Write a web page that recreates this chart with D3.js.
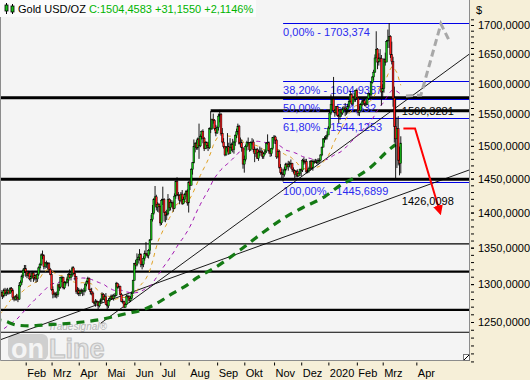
<!DOCTYPE html>
<html><head><meta charset="utf-8">
<script src="https://cdn.jsdelivr.net/npm/d3@7"></script>
<style>
body{margin:0;background:#f6efd8;}
svg{display:block;font-family:"Liberation Sans",Arial,sans-serif;}
</style>
</head><body>
<svg id="c" width="530" height="380"></svg>
<script>
// ---------- DATA ----------
const preCloses = [1230,1226,1225,1227,1228,1222,1232,1231,1233,1235,1227,1223,1215,
 1233,1232,1232,1231,1225,1222,1209,1201,1202,1211,1214,1222,1223,1221,1226,1222,1222,1214,1221,1223,1222,
 1231,1238,1237,1238,1248,1244,1246,1243,1241,1238,1246,1249,1245,1258,1256,1269,1268,1276,1281,1282];

const closes = [
 1284,1294,1285,1289,1284,1292,1287,1289,1291,1288,1294,1292,1282,1280,1283,1282,1280,1298,1302,1311,1319,1321,
 1317,1312,1315,1307,1310,1315,1308,1312,1307,1313,1322,1327,1340,1339,1324,1329,1328,1328,1320,1313,
 1293,1286,1287,1286,1286,1299,1296,1309,1309,1295,1302,1302,1306,1313,1309,1313,1322,1315,1310,1290,1292,
 1287,1291,1290,1291,1291,1300,1303,1308,1293,1290,1288,1276,1274,1276,1277,1271,1276,1279,1286,1280,1283,
 1273,1271,1278,1281,1284,1281,1284,1285,1301,1296,1297,1286,1277,1277,1269,1273,1284,1283,1278,1281,1288,1305,
 1328,1326,1334,1336,1341,1327,1327,1335,1342,1341,1339,1346,1361,1390,1399,1419,1423,1408,1412,1409,
 1385,1418,1419,1400,1396,1398,1419,1407,1415,1414,1406,1424,1446,1426,1425,1418,1427,1413,1419,1427,1431,1414,
 1445,1440,1464,1474,1499,1504,1497,1511,1500,1515,1523,1512,1496,1505,1501,1497,1527,1527,1542,1540,1527,1520,
 1529,1547,1550,1519,1506,1499,1486,1497,1499,1488,1498,1502,1494,1506,1516,1522,1531,1504,1505,1497,1472,
 1479,1499,1505,1505,1494,1505,1506,1494,1488,1494,1481,1490,1492,1490,1484,1488,1492,1504,1505,1492,1488,1496,1513,
 1514,1509,1483,1491,1467,1459,1457,1456,1463,1472,1468,1472,1471,1473,1464,1462,1456,1461,1454,1458,1464,
 1463,1478,1475,1476,1460,1462,1465,1476,1466,1476,1476,1475,1475,1478,1478,1486,1498,1511,1511,1514,1517,
 1528,1552,1566,1574,1556,1552,1562,1548,1546,1557,1552,1557,1560,1558,1558,1563,1571,1582,1567,1577,1575,1589,
 1576,1553,1556,1566,1570,1572,1567,1566,1576,1584,1581,1602,1611,1619,1643,1658,1636,1643,1642,1586,
 1592,1640,1636,1671,1673,1680,1649,1637,1576,1530,1511,1527,1478,1473.3033,1504.4583];

const highs = [
 1290,1298,1298,1292,1290,1294,1295,1294,1295,1293,1296,1296,1294,1284,1285,1287,1285,1302,1305,1313,1321,1326,
 1326,1318,1318,1316,1312,1318,1316,1313,1314,1316,1324,1329,1342,1346,1341,1330,1332,1330,1330,1322,
 1315,1297,1290,1289,1290,1301,1300,1310,1311,1310,1304,1304,1310,1315,1320,1316,1324,1324,1316,1311,1296,
 1295,1293,1294,1293,1295,1301,1305,1310,1309,1294,1295,1290,1278,1280,1279,1277,1277,1281,1289,1288,1286,
 1288,1276,1281,1283,1286,1286,1287,1288,1303,1302,1300,1298,1288,1280,1278,1275,1286,1286,1285,1284,1290,1306,
 1329,1333,1342,1339,1348,1342,1331,1338,1346,1358,1342,1348,1362,1397,1411,1421,1439,1426,1415,1414,
 1410,1420,1438,1421,1402,1404,1427,1421,1419,1418,1416,1428,1447,1452,1430,1426,1430,1433,1423,1429,1433,1434,
 1446,1449,1466,1475,1510,1506,1509,1513,1535,1518,1524,1526,1514,1507,1507,1506,1529,1555,1543,1551,1542,1533,
 1531,1551,1557,1552,1528,1512,1500,1499,1520,1505,1512,1505,1511,1508,1518,1527,1535,1533,1513,1510,1497,
 1485,1502,1508,1513,1506,1507,1512,1510,1499,1496,1497,1494,1499,1497,1493,1490,1495,1505,1518,1507,1495,1497,1514,
 1517,1516,1511,1494,1494,1472,1465,1465,1468,1474,1474,1477,1476,1479,1474,1467,1463,1463,1464,1459,1465,
 1465,1480,1482,1480,1480,1465,1468,1478,1478,1479,1479,1480,1479,1481,1481,1487,1499,1512,1515,1517,1523,
 1531,1555,1582,1576,1611,1558,1563,1563,1551,1559,1557,1562,1563,1568,1560,1567,1575,1588,1584,1578,1584,1590,
 1592,1577,1563,1568,1574,1575,1575,1570,1578,1585,1584,1604,1612,1623,1649,1689,1660,1651,1658,1648,
 1599,1643,1652,1674,1692,1703.4,1682,1671,1645,1595,1575,1545,1547,1499,1515];

const lows = [
 1279,1283,1280,1283,1280,1282,1284,1284,1286,1286,1287,1289,1279,1277,1278,1278,1276,1279,1296,1299,1308,1315,
 1310,1308,1310,1305,1303,1308,1303,1305,1302,1303,1311,1318,1325,1334,1320,1321,1322,1320,1316,1312,
 1291,1281,1282,1282,1281,1283,1291,1294,1303,1293,1293,1298,1301,1297,1308,1305,1310,1313,1305,1287,1286,
 1284,1284,1287,1284,1285,1289,1297,1301,1292,1286,1285,1275,1272,1270,1274,1266,1269,1274,1275,1279,1277,
 1272,1266,1268,1276,1279,1280,1278,1282,1284,1294,1294,1285,1276,1274,1269,1269,1272,1281,1275,1276,1280,1287,
 1305,1320,1324,1328,1332,1323,1320,1323,1332,1338,1336,1335,1341,1360,1387,1397,1410,1403,1401,1400,
 1381,1382,1411,1387,1386,1389,1396,1402,1403,1408,1401,1405,1420,1424,1419,1412,1415,1411,1412,1415,1423,1410,
 1400,1433,1440,1456,1473,1490,1494,1494,1480,1498,1510,1504,1492,1495,1495,1492,1495,1520,1525,1535,1524,1515,
 1519,1524,1537,1516,1504,1496,1484,1485,1491,1486,1490,1492,1490,1488,1500,1512,1518,1502,1498,1491,1465,
 1459,1476,1493,1501,1491,1492,1501,1490,1475,1483,1480,1477,1484,1485,1480,1480,1486,1489,1502,1488,1483,1484,1494,
 1505,1503,1480,1481,1465,1456,1450,1445.7,1453,1461,1465,1462,1467,1465,1460,1458,1451,1452,1452,1453,1454,
 1454,1460,1471,1472,1458,1458,1459,1462,1464,1462,1472,1474,1472,1471,1474,1476,1484,1498,1505,1509,1510,
 1517,1526,1549,1558,1553,1546,1549,1546,1536,1541,1546,1549,1555,1547,1549,1551,1560,1569,1565,1564,1570,1570,
 1573,1548,1547,1556,1562,1565,1563,1562,1565,1573,1578,1580,1600,1605,1618,1644,1624,1630,1636,1564,
 1575,1585,1630,1636,1660,1660,1643,1632,1562,1505,1451,1466,1470,1455,1458];

const monthLabels = ["Feb","Mrz","Apr","Mai","Jun","Jul","Aug","Sep","Okt","Nov","Dez","2020","Feb","Mrz","Apr"];
const monthTickIdx = [22,42,63,84,106,126,148,170,191,214,235,256,278,298,324];
const priceTicks = [1250,1300,1350,1400,1450,1500,1550,1600,1650,1700];

const supportLevels = [1576.8, 1449, 1355.4, 1316.9, 1265.7, 1236.8];
const resistStartIdx = 165, resistPrice = 1555.5;

const fibHigh = 1703.374, fibLow = 1445.68994, fibStartIdx = 221;
const fibPcts = [0, 38.2, 50, 61.8, 100];

const trendA = [[0, 1225.8], [312, 1426.0098]];
const trendB = [[80, 1248.4], [312, 1566.3281]];

const ma200Idx = [-3, 4, 15, 25, 35, 66, 79, 100, 113, 124, 136, 147, 154, 168, 188, 203, 226, 236, 253, 266, 278, 288, 304, 308];
const ma200Val = [1253, 1252, 1246, 1245, 1246, 1250, 1253, 1261, 1266, 1275, 1288, 1299, 1308, 1322, 1347, 1368, 1397, 1407, 1423, 1441, 1453, 1466, 1496, 1502];

const forecastIdx = [316, 327.5, 343, 350];
const forecastVal = [1579.5, 1581, 1702, 1670];
const arrowIdx = [314, 323, 342.5];
const arrowVal = [1527.3, 1527.3, 1399];

// ---------- SETUP ----------
const svg = d3.select("#c");
const W = 470, H = 361;
const x = d3.scaleLinear().domain([22, 298]).range([25.7, 382.7]);
const y = d3.scaleLog().domain([1250, 1700]).range([322, 25]);
const fmt4 = v => d3.format(".4f")(v).replace(".", ",");
const fmtTrim = v => d3.format(".4f")(v).replace(/0+$/, "").replace(/\.$/, "").replace(".", ",");

svg.append("rect").attr("width", 530).attr("height", 380).attr("fill", "#f6efd8");
svg.append("rect").attr("x", 0).attr("y", 0).attr("width", W).attr("height", H)
  .attr("fill", "#f4f4f4");
svg.append("path").attr("d", `M0.5,0 V${H - 0.5} H${W - 0.5} V0`).attr("fill", "none").attr("stroke", "#8c8c8c");

svg.append("defs").append("clipPath").attr("id", "pc")
  .append("rect").attr("x", 1).attr("y", 0).attr("width", W - 2).attr("height", H - 1);
svg.select("defs").append("marker").attr("id", "ah").attr("viewBox", "0 0 10 10")
  .attr("refX", 8).attr("refY", 5).attr("markerWidth", 5).attr("markerHeight", 5)
  .attr("orient", "auto").attr("markerUnits", "strokeWidth")
  .append("path").attr("d", "M0,0 L10,5 L0,10 Z").attr("fill", "#ff0000");

const g = svg.append("g").attr("clip-path", "url(#pc)");

// watermark
const wm = g.append("g");
wm.append("text").attr("x", 48).attr("y", 330).attr("font-size", 10).attr("font-style", "italic")
  .attr("fill", "#b4b4b4").text("Tradesignal®");
wm.append("rect").attr("x", 8).attr("y", 334).attr("width", 40).attr("height", 26).attr("rx", 6)
  .attr("fill", "#cfcfcf");
wm.append("text").attr("x", 11).attr("y", 358).attr("font-size", 27).attr("font-weight", "bold")
  .attr("fill", "#f4f4f4").text("on");
wm.append("text").attr("x", 49).attr("y", 358).attr("font-size", 27).attr("font-weight", "bold")
  .attr("fill", "#e6e6e6").attr("stroke", "#c4c4c4").attr("stroke-width", 1.2).text("Line");

// horizontal levels
const supW = [3, 3, 1.3, 2.2, 2.2, 1];
supportLevels.forEach((p, k) => {
  g.append("line").attr("x1", 0).attr("x2", W).attr("y1", y(p)).attr("y2", y(p))
    .attr("stroke", "#000").attr("stroke-width", supW[k]);
});
g.append("line").attr("x1", x(resistStartIdx)).attr("x2", W).attr("y1", y(resistPrice)).attr("y2", y(resistPrice))
  .attr("stroke", "#000").attr("stroke-width", 3);

// fib
fibPcts.forEach(pc => {
  const lv = fibHigh - pc / 100 * (fibHigh - fibLow);
  const yy = Math.round(y(lv)) + 0.5;
  g.append("line").attr("x1", x(fibStartIdx)).attr("x2", W).attr("y1", yy).attr("y2", yy)
    .attr("stroke", "#0000e6").attr("stroke-width", 1);
  g.append("text").attr("x", x(fibStartIdx)).attr("y", yy + 12.5).attr("font-size", 11)
    .attr("fill", "#2a2af0")
    .text(d3.format(".2f")(pc).replace(".", ",") + "% - " + fmtTrim(lv));
});

// trend lines
function extLine(pts) {
  const x1 = x(pts[0][0]), y1 = y(pts[0][1]), x2 = x(pts[1][0]), y2 = y(pts[1][1]);
  const s = (y2 - y1) / (x2 - x1);
  return [x1, y1, W, y2 + s * (W - x2)];
}
[trendA, trendB].forEach(t => {
  const L = extLine(t);
  g.append("line").attr("x1", L[0]).attr("y1", L[1]).attr("x2", L[2]).attr("y2", L[3])
    .attr("stroke", "#000").attr("stroke-width", 0.9);
});

// moving averages (computed from closes)
const all = preCloses.concat(closes);
const off = preCloses.length;
function sma(n) {
  const out = [];
  for (let k = n - 1; k < all.length; k++) {
    out.push([k - off, d3.mean(all.slice(k - n + 1, k + 1))]);
  }
  return out;
}
const lineGen = d3.line().x(d => x(d[0])).y(d => y(d[1]));
g.append("path").attr("d", lineGen(sma(50))).attr("fill", "none").attr("stroke", "#a010b0")
  .attr("stroke-width", 1).attr("stroke-dasharray", "4,4");
g.append("path").attr("d", lineGen(sma(20))).attr("fill", "none").attr("stroke", "#e0a020")
  .attr("stroke-width", 1).attr("stroke-dasharray", "4,4");

// 200 MA typed
g.append("path").attr("d", d3.line().curve(d3.curveMonotoneX).x((d, i) => x(ma200Idx[i])).y(d => y(d))(ma200Val))
  .attr("fill", "none").attr("stroke", "#147a14").attr("stroke-width", 3.2).attr("stroke-dasharray", "8,6");

// candles
const cd = closes.map((c, i) => ({ i, o: i === 0 ? preCloses[preCloses.length - 1] : closes[i - 1], c, h: highs[i], l: lows[i] }));
const cg = g.append("g");
cg.selectAll("line.w").data(cd).join("line")
  .attr("x1", d => x(d.i)).attr("x2", d => x(d.i))
  .attr("y1", d => y(Math.max(d.h, d.o, d.c))).attr("y2", d => y(Math.min(d.l, d.o, d.c)))
  .attr("stroke", "#000").attr("stroke-width", 0.9);
cg.selectAll("rect").data(cd).join("rect")
  .attr("x", d => x(d.i) - 0.9).attr("width", 1.8)
  .attr("y", d => y(Math.max(d.o, d.c)))
  .attr("height", d => Math.max(0.8, Math.abs(y(d.o) - y(d.c))))
  .attr("fill", d => d.c >= d.o ? "#16c016" : "#ff1a1a")
  .attr("stroke", "#000").attr("stroke-width", 0.45);

// forecast and arrow
g.append("path").attr("d", d3.line().x((d, i) => x(forecastIdx[i])).y(d => y(d))(forecastVal))
  .attr("fill", "none").attr("stroke", "#a8a8a8").attr("stroke-width", 3).attr("stroke-dasharray", "7,4");
g.append("path").attr("d", d3.line().x((d, i) => x(arrowIdx[i])).y(d => y(d))(arrowVal))
  .attr("fill", "none").attr("stroke", "#ff0000").attr("stroke-width", 2).attr("marker-end", "url(#ah)");

// trend values labels
const lastI = closes.length - 1;
g.append("text").attr("x", x(lastI) + 1).attr("y", y(trendB[1][1]) + 11).attr("font-size", 11)
  .attr("fill", "#000").text(fmt4(trendB[1][1]));
g.append("text").attr("x", x(lastI) + 1).attr("y", y(trendA[1][1]) + 10).attr("font-size", 11)
  .attr("fill", "#000").text(fmt4(trendA[1][1]));

// resize grip
svg.append("rect").attr("x", 463.5).attr("y", 354.5).attr("width", 6).attr("height", 6)
  .attr("fill", "#fff").attr("stroke", "#777");
svg.append("line").attr("x1", 464).attr("y1", 360).attr("x2", 469).attr("y2", 355).attr("stroke", "#000");

// ---------- AXES ----------
const minor = d3.range(1200, 1720, 10);
const ya = svg.append("g").attr("transform", `translate(${W},0)`)
  .call(d3.axisRight(y).tickValues(minor).tickSize(3).tickFormat(""));
ya.select(".domain").remove();
ya.selectAll("line").attr("stroke", "#000").attr("transform", "translate(1,0)");
ya.selectAll(".tick").filter(d => y(d) > H + 2 || y(d) < 2).remove();

const yl = svg.append("g").attr("transform", `translate(${W},0)`)
  .call(d3.axisRight(y).tickValues(priceTicks).tickSize(3).tickPadding(5).tickFormat(fmt4));
yl.select(".domain").remove();
yl.selectAll("line").attr("stroke", "#000").attr("transform", "translate(1,0)");
yl.selectAll("text").attr("font-size", 11).attr("fill", "#000").attr("font-family", "Liberation Sans, Arial, sans-serif");
svg.append("text").attr("x", 476).attr("y", 14).attr("font-size", 11).attr("fill", "#000").text("$");

const xa = svg.append("g").attr("transform", `translate(0,${H + 1.5})`)
  .call(d3.axisBottom(x).tickValues(monthTickIdx).tickSize(3).tickFormat((d, i) => monthLabels[i]));
xa.select(".domain").remove();
xa.selectAll("line").attr("stroke", "#000");
xa.selectAll("text").attr("text-anchor", "start").attr("x", 1).attr("y", 7).attr("dy", "0.71em")
  .attr("font-size", 11).attr("fill", "#000").attr("font-family", "Liberation Sans, Arial, sans-serif");

// ---------- HEADER ----------
svg.append("rect").attr("x", 0).attr("y", 0).attr("width", 256).attr("height", 17).attr("fill", "#fbfbfb");
const ic = svg.append("g");
[[5, 5, 6, 3, 14], [11, 6, 6, 4, 14]].forEach(a => {
  ic.append("line").attr("x1", a[0] + 1.5).attr("x2", a[0] + 1.5).attr("y1", a[3]).attr("y2", a[4]).attr("stroke", "#000");
  ic.append("rect").attr("x", a[0]).attr("y", a[1]).attr("width", 3).attr("height", a[2])
    .attr("fill", "#18c018").attr("stroke", "#000").attr("stroke-width", 0.8);
});
const last = closes[lastI], prev = closes[lastI - 1];
const chg = last - prev, pct = chg / prev * 100;
const title = svg.append("text").attr("x", 18).attr("y", 13).attr("font-size", 11);
title.append("tspan").attr("fill", "#000").text("Gold USD/OZ ");
title.append("tspan").attr("fill", "#00b400")
  .text("C:" + fmt4(last) + " +" + fmt4(chg) + " +" + fmt4(pct) + "%");
</script>
</body></html>
